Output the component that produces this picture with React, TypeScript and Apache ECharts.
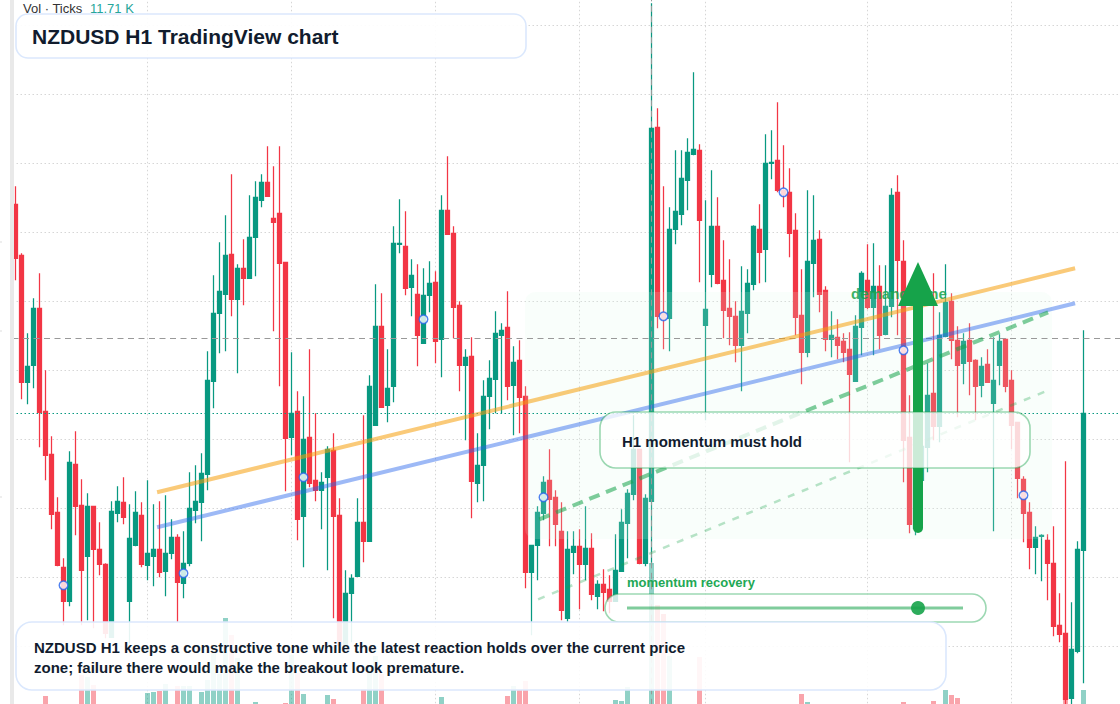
import { useRef, useEffect } from 'react'
import * as echarts from 'echarts'

// candles, in chart points (axis has no printed labels in the source picture)
const opens = [
  511, 460, 333, 350, 407, 304, 261, 203, 148, 114,
  251, 210, 159, 209, 166, 151, 78, 202, 213, 114,
  170, 200, 150, 159, 166, 144, 162, 178, 132, 152,
  205, 213, 241, 334, 402, 421, 461, 416, 447, 437,
  478, 515, 533, 497, 502, 453, 278, 304, 199, 278,
  235, 225, 238, 265, 200, 68, 122, 139, 193, 174,
  290, 389, 310, 329, 471, 469, 428, 421, 372, 420,
  433, 376, 505, 482, 410, 350, 359, 232, 250, 319,
  336, 380, 388, 330, 355, 319, 143, 170, 202, 235,
  218, 184, 97, 163, 169, 151, 167, 119, 131, 126,
  114, 144, 192, 221, 266, 152, 214, 588, 402, 397,
  486, 501, 535, 561, 565, 390, 441, 489, 435, 407,
  399, 370, 402, 431, 486, 466, 552, 555, 525, 523,
  485, 400, 363, 452, 476, 425, 376, 378, 374, 366,
  334, 388, 435, 408, 429, 381, 409, 523, 454, 278,
  187, 235, 268, 322, 289, 379, 414, 375, 352, 375,
  355, 330, 351, 312, 350, 376, 335, 293, 236, 203,
  168, 179, 175, 152, 90, 82, 17, 64, 165,
]
const closes = [
  457, 333, 349, 407, 303, 260, 201, 150, 114, 253,
  209, 145, 209, 166, 151, 82, 204, 214, 198, 177,
  203, 151, 162, 166, 143, 162, 178, 133, 152, 207,
  214, 242, 335, 402, 424, 460, 416, 447, 437, 478,
  518, 533, 519, 493, 452, 277, 302, 196, 276, 232,
  225, 233, 266, 199, 70, 122, 137, 193, 174, 329,
  389, 308, 327, 472, 472, 427, 440, 380, 420, 432,
  374, 505, 481, 408, 350, 358, 234, 250, 319, 337,
  382, 385, 329, 353, 318, 143, 170, 203, 233, 216,
  191, 105, 166, 169, 151, 167, 121, 131, 123, 114,
  145, 193, 222, 266, 152, 217, 587, 399, 396, 486,
  504, 537, 563, 566, 495, 406, 489, 432, 405, 399,
  370, 404, 432, 489, 463, 552, 553, 525, 521, 482,
  398, 363, 454, 475, 421, 376, 380, 370, 363, 341,
  389, 442, 408, 429, 380, 409, 520, 455, 275, 191,
  248, 269, 320, 289, 380, 413, 375, 350, 374, 354,
  329, 349, 333, 335, 374, 329, 290, 237, 202, 168,
  178, 180, 152, 89, 81, 16, 66, 166, 302,
]
const lows = [
  435, 316, 311, 327, 268, 235, 186, 149, 90, 109,
  180, 90, 95, 87, 140, 77, 78, 193, 191, 72,
  169, 148, 135, 129, 138, 119, 156, 93, 117, 149,
  192, 174, 225, 307, 362, 364, 399, 342, 410, 437,
  439, 508, 519, 384, 329, 224, 260, 175, 148, 228,
  214, 186, 145, 97, 67, 68, 73, 139, 153, 174,
  290, 308, 293, 313, 462, 420, 399, 349, 372, 403,
  352, 338, 481, 377, 324, 275, 197, 213, 214, 286,
  302, 302, 315, 280, 282, 127, 80, 135, 195, 169,
  169, 95, 93, 141, 106, 135, 115, 106, 104, 102,
  114, 144, 157, 215, 151, 149, 150, 387, 366, 364,
  471, 490, 505, 560, 433, 295, 428, 431, 377, 370,
  353, 324, 382, 425, 432, 433, 536, 523, 508, 458,
  380, 331, 358, 418, 403, 364, 358, 356, 353, 253,
  334, 360, 406, 360, 366, 380, 398, 380, 233, 182,
  180, 235, 243, 275, 273, 378, 356, 298, 331, 320,
  295, 318, 333, 184, 330, 323, 266, 217, 173, 146,
  141, 134, 115, 79, 73, -10, -5, 62, 32,
]
const highs = [
  529, 462, 382, 417, 442, 345, 279, 218, 157, 264,
  284, 236, 222, 209, 193, 152, 214, 229, 238, 211,
  224, 213, 235, 211, 214, 220, 196, 181, 184, 243,
  250, 262, 364, 440, 473, 500, 541, 451, 476, 520,
  534, 541, 569, 549, 569, 453, 363, 324, 319, 366,
  302, 243, 269, 282, 217, 145, 141, 217, 300, 340,
  431, 422, 366, 489, 516, 504, 456, 451, 447, 454,
  444, 520, 559, 489, 414, 366, 378, 282, 335, 355,
  404, 392, 424, 369, 375, 329, 170, 209, 239, 266,
  225, 213, 184, 184, 186, 209, 182, 135, 146, 140,
  181, 206, 226, 300, 266, 221, 712, 607, 529, 508,
  565, 565, 577, 643, 571, 515, 545, 518, 475, 456,
  414, 449, 446, 490, 511, 581, 585, 613, 570, 547,
  502, 446, 525, 520, 485, 429, 404, 396, 382, 383,
  400, 444, 471, 472, 450, 450, 527, 540, 475, 320,
  275, 275, 352, 442, 403, 451, 422, 389, 382, 392,
  356, 358, 366, 378, 381, 377, 345, 293, 239, 213,
  189, 181, 181, 189, 122, 254, 113, 174, 385,
]
const categories = Array.from({ length: 185 }, (_, i) => String(i))

// [candle index, volume]; everything else is too small to show
const volumes = [
  [5, 8], [11, 29], [12, 27], [13, 19], [22, 11], [23, 12], [24, 13], [25, 20], [27, 18], [28, 18],
  [29, 18], [31, 12], [32, 24], [33, 51], [34, 30], [35, 86], [36, 69], [37, 46], [40, 2], [45, 1],
  [46, 49], [47, 31], [48, 10], [52, 9], [53, 5], [58, 15], [59, 39], [60, 48], [61, 30], [71, 7],
  [82, 8], [83, 18], [84, 14], [85, 23], [100, 4], [101, 3], [102, 17], [106, 141], [107, 99], [108, 90],
  [109, 48], [114, 47], [131, 10], [132, 2], [148, 2], [153, 3], [155, 14], [156, 9], [157, 6], [175, 5],
  [178, 14],
]

const timeGridLines = [22, 46, 70, 94, 115, 142, 166]
const priceInterval = 69
const lastPrice = 377
const tickPrice = 302
const crosshairBar = 106

const orangeTrend = [[23.6, 223], [176.6, 447]]
const blueTrend = [[23.6, 188], [176.6, 412]]
const greenChannelUpper = [[87.3, 196], [172.1, 403]]
const greenChannelLower = [[87.1, 116], [172.1, 325]]

// [candle index, price]
const signalDots = [
  [8, 130], [28, 142], [48, 238], [68, 396], [88, 218], [108, 399], [128, 523], [148, 365], [168, 220],
]

const UP = '#089981'
const DOWN = '#f23645'
const INK = '#111c2e'
const GREEN = '#16a34a'
const DOTTED = [1.5, 2.5]
const FONT = '"Liberation Sans", Arial, sans-serif'

export default function App() {
  const containerRef = useRef<HTMLDivElement>(null)

  useEffect(() => {
    const el = containerRef.current
    if (!el) return
    const chart = echarts.init(el, null, { renderer: 'svg' })

    const candleData = opens.map((o, i) => [o, closes[i], lows[i], highs[i]])
    const plainLine = (name: string, data: number[][], color: string, width: number, type: any, opacity: number) => ({
      name,
      type: 'line',
      xAxisIndex: 2,
      yAxisIndex: 0,
      data,
      symbol: 'none',
      silent: true,
      z: 5,
      lineStyle: { color, width, type, opacity },
    })

    const panel = (x: number, y: number, width: number, height: number, r: number, stroke: string, fill: string, z: number) => ({
      type: 'rect',
      z,
      silent: true,
      shape: { x, y, width, height, r },
      style: { fill, stroke, lineWidth: 1.6 },
    })
    const label = (text: string, x: number, y: number, font: string, fill: string, z: number, opacity = 1) => ({
      type: 'text',
      z,
      silent: true,
      style: { text, x, y, font, fill, opacity, verticalAlign: 'middle' },
    })
    const scaleMark = (y: number) => ({
      type: 'line',
      z: 8,
      silent: true,
      shape: { x1: 0, y1: y, x2: 2, y2: y },
      style: { stroke: '#dddddd', lineWidth: 1 },
    })

    const option: any = {
      backgroundColor: '#ffffff',
      animation: false,
      grid: [
        { left: 12.5, top: -43.7, width: 1110, height: 759, outerBoundsMode: 'none' },
        { left: 12.5, top: 504, width: 1110, height: 200, outerBoundsMode: 'none' },
      ],
      xAxis: [
        { type: 'category', gridIndex: 0, data: categories, show: false },
        { type: 'category', gridIndex: 1, data: categories, show: false },
        { type: 'value', gridIndex: 0, min: -0.5, max: 184.5, show: false },
      ],
      yAxis: [
        {
          type: 'value',
          gridIndex: 0,
          min: 0,
          max: 759,
          interval: priceInterval,
          axisLine: { show: false },
          axisTick: { show: false },
          axisLabel: { show: false },
          splitLine: { show: true, lineStyle: { color: '#d6d6d6', width: 1, type: DOTTED } },
        },
        { type: 'value', gridIndex: 1, min: 0, max: 200, show: false },
      ],
      series: [
        {
          name: 'time grid',
          type: 'line',
          xAxisIndex: 2,
          yAxisIndex: 0,
          data: [],
          z: 1,
          silent: true,
          markLine: {
            z: 1,
            silent: true,
            symbol: 'none',
            label: { show: false },
            lineStyle: { color: '#d6d6d6', width: 1, type: DOTTED },
            data: timeGridLines.map((v) => ({ xAxis: v })),
          },
        },
        {
          name: 'Vol',
          type: 'bar',
          xAxisIndex: 1,
          yAxisIndex: 1,
          barWidth: 5,
          z: 2,
          silent: true,
          data: volumes,
          itemStyle: {
            opacity: 0.45,
            color: (p: any) => (closes[p.value[0]] >= opens[p.value[0]] ? UP : DOWN),
          },
        },
        {
          name: 'NZDUSD',
          type: 'candlestick',
          xAxisIndex: 0,
          yAxisIndex: 0,
          barWidth: 4,
          z: 2,
          silent: true,
          data: candleData,
          itemStyle: { color: UP, color0: DOWN, borderColor: UP, borderColor0: DOWN, borderWidth: 1.25 },
        },
        {
          name: 'levels',
          type: 'line',
          xAxisIndex: 2,
          yAxisIndex: 0,
          data: [],
          z: 4,
          silent: true,
          markLine: {
            z: 4,
            silent: true,
            symbol: 'none',
            label: { show: false },
            data: [
              { yAxis: lastPrice, lineStyle: { color: '#999999', width: 1, type: [6, 4.5] } },
              { yAxis: tickPrice, lineStyle: { color: UP, width: 1, type: DOTTED } },
              { xAxis: crosshairBar, lineStyle: { color: '#999999', width: 1, type: [6, 4.5] } },
            ],
          },
        },
        plainLine('ema fast', orangeTrend, '#f59e0b', 4, 'solid', 0.55),
        plainLine('ema slow', blueTrend, '#2563eb', 4, 'solid', 0.45),
        plainLine('channel upper', greenChannelUpper, GREEN, 4, [11, 7], 0.55),
        plainLine('channel lower', greenChannelLower, GREEN, 2.5, [7, 8], 0.3),
        {
          name: 'signals',
          type: 'scatter',
          xAxisIndex: 0,
          yAxisIndex: 0,
          data: signalDots,
          symbol: 'circle',
          symbolSize: 8.5,
          z: 6,
          silent: true,
          itemStyle: { color: '#ffffff', borderColor: '#2563eb', borderWidth: 1.5 },
        },
      ],
      graphic: {
        elements: [
          // left price-scale strip
          { type: 'rect', z: 7, silent: true, shape: { x: 0, y: 0, width: 10, height: 704 }, style: { fill: '#ffffff' } },
          { type: 'rect', z: 7, silent: true, shape: { x: 10, y: 0, width: 4, height: 704 }, style: { fill: '#e9e9e9' } },
          scaleMark(242),
          scaleMark(331),
          scaleMark(497),

          // demand zone
          { type: 'rect', z: 3, silent: true, shape: { x: 525, y: 292, width: 527, height: 247, r: 10 }, style: { fill: 'rgba(220,252,231,0.17)' } },
          label('demand zone', 851, 293, `bold 15px ${FONT}`, GREEN, 5, 0.85),

          // arrow
          { type: 'line', z: 6, silent: true, shape: { x1: 918, y1: 300, x2: 918, y2: 528 }, style: { stroke: GREEN, lineWidth: 10, lineCap: 'round' } },
          { type: 'polygon', z: 6, silent: true, shape: { points: [[918, 262], [938, 306], [898, 306]] }, style: { fill: GREEN } },

          // header
          label('Vol · Ticks', 23, 8.5, `13px ${FONT}`, '#333333', 8),
          label('11.71 K', 90, 8.5, `13px ${FONT}`, '#26a69a', 8),
          panel(16, 14, 510, 44, 12, '#dbe8fd', 'rgba(255,255,255,0.92)', 8),
          label('NZDUSD H1 TradingView chart', 32, 36, `bold 21px ${FONT}`, INK, 9),

          // callout
          panel(600, 412, 430, 56, 16, 'rgba(22,163,74,0.42)', 'rgba(255,255,255,0.78)', 8),
          label('H1 momentum must hold', 622, 441.5, `bold 15px ${FONT}`, INK, 9),

          // recovery slider
          label('momentum recovery', 627, 582, `bold 13px ${FONT}`, '#22a855', 9),
          panel(605, 594, 381, 28, 14, 'rgba(22,163,74,0.42)', 'rgba(255,255,255,0.8)', 8),
          { type: 'line', z: 9, silent: true, shape: { x1: 627, y1: 608, x2: 963, y2: 608 }, style: { stroke: 'rgba(22,163,74,0.55)', lineWidth: 3 } },
          { type: 'circle', z: 9, silent: true, shape: { cx: 918, cy: 608, r: 7 }, style: { fill: 'rgba(22,163,74,0.9)' } },

          // summary
          panel(16, 622, 930, 68, 16, '#dbe8fd', 'rgba(255,255,255,0.9)', 8),
          label('NZDUSD H1 keeps a constructive tone while the latest reaction holds over the current price', 34, 647.5, `bold 15px ${FONT}`, INK, 9),
          label('zone; failure there would make the breakout look premature.', 34, 667.5, `bold 15px ${FONT}`, INK, 9),
        ],
      },
    }

    chart.setOption(option)

    return () => {
      chart.dispose()
    }
  }, [])

  return <div ref={containerRef} style={{ position: 'fixed', left: 0, top: 0, width: 1120, height: 704 }} />
}
